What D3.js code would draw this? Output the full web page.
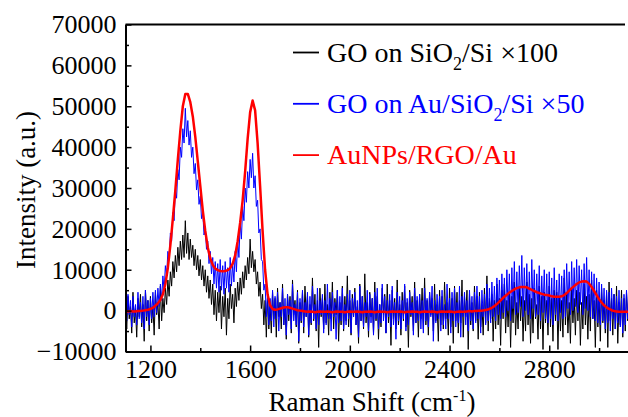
<!DOCTYPE html>
<html>
<head>
<meta charset="utf-8">
<script src="https://cdn.jsdelivr.net/npm/d3@7.9.0/dist/d3.min.js"></script>
<style>
  body { margin: 0; background: #fff; }
  svg { display: block; font-family: "Liberation Serif", "Times New Roman", serif; }
</style>
</head>
<body>
<svg id="chart" width="628" height="417"></svg>
<script>
// Raman shift grids (cm-1): noisy spectra every 5 cm-1, smooth spectrum every 10 cm-1
const shiftFine = d3.range(1100, 3121, 5);
const shiftCoarse = d3.range(1100, 3121, 10);

// GO on SiO2/Si x100 (black), one row per 100 cm-1
const goSiO2 = [
  2000,-4500,3500,-2000,1000,-5500,4500,-3000,500,-6500,3000,-1500,4000,-4000,1500,-7500,5000,-2500,2500,-5000,
  3500,-3000,1000,-6000,4500,-1000,2000,-4500,6000,-2500,3000,-500,5500,1500,7500,3500,9500,6000,12000,8000,
  13500,9500,15500,11000,17000,12500,18500,13000,22000,14000,19000,12500,17500,13000,16000,11000,15000,10000,13500,8500,
  12500,7500,11000,6000,10000,4500,8500,3000,7500,1500,6500,-1000,5000,-2500,4500,-500,6000,-4500,3500,-1500,
  5500,-6000,3000,-2000,6500,500,4000,-3000,5500,1000,7000,2500,8000,4000,9500,5500,11000,7500,13000,9000,
  17500,10500,14500,9500,12500,6500,9500,3500,7000,500,4000,-3500,2500,-6500,3500,-4500,1500,-5500,4500,-2000,
  3000,-6500,5500,-1500,2000,-4500,6500,-3500,1000,-7000,4000,-2500,3500,-5500,7500,-1000,2500,-4000,5000,-8000,
  2000,-3000,4500,-5500,6000,-1500,3500,-6500,1500,-3500,8000,-2500,4000,-5000,2500,-9000,5500,-1500,3000,-4500,
  6500,-3000,1500,-6000,4500,-2000,7000,-4500,3000,-1000,5000,-7500,2000,-3500,6000,-5000,3500,-2500,8500,-4000,
  2500,-6000,4000,-1500,5500,-3500,1000,-8000,6500,-2500,3500,-4500,9000,-3000,2000,-6500,4500,-1500,3000,-5500,
  7000,-2500,3500,-7000,1500,-4000,5500,-1000,4000,-5500,6500,-3000,2500,-8500,5000,-2000,3000,-4500,7500,-3500,
  1500,-6000,4500,-2500,6000,-4000,2000,-9000,5000,-1500,3500,-5000,7000,-3000,2500,-6500,4000,-2000,5500,-4500,
  8000,-3500,2500,-6000,4500,-1000,3000,-5000,6500,-2500,1500,-7500,5000,-3500,3500,-4500,7000,-2000,2000,-6000,
  5500,-4000,3000,-8000,6000,-2500,4500,-5500,2500,-3000,7500,-6500,3500,-1500,5000,-9500,4000,-3500,2000,-5000,
  6000,-2500,3500,-7000,4500,-4000,1500,-6000,5500,-3000,8500,-5000,3000,-2000,4000,-7500,2500,-4500,6500,-3500,
  3000,-8500,5000,-2000,6500,-5500,2500,-4000,4500,-9000,3500,-3000,7000,-6000,2000,-4500,5500,-2500,3500,-7500,
  2500,-5000,7000,-3500,4000,-8000,3000,-5500,5500,-2000,1500,-7000,6000,-4500,3500,-9500,4500,-3000,2500,-6000,
  6000,-4000,3000,-7500,5000,-2500,4500,-9500,3500,-5000,2500,-6500,8000,-3500,4000,-5500,2000,-8000,5500,-3000,
  3000,-6000,5000,-2500,4500,-8500,2000,-4500,6500,-3500,3500,-7000,4000,-5000,7500,-2000,2500,-9000,5000,-4000,
  3500,-7500,5500,-3000,2500,-5500,4500,-9000,7000,-2500,3000,-6000,4000,-4500,6000,-8000,2000,-3500,5000,-6500,
  3000,-5000,4500,-2500,5500
];

// GO on Au/SiO2/Si x50 (blue), one row per 100 cm-1
const goAu = [
  3000,-2500,4000,-1000,2500,-4000,3500,-1500,1500,-3500,4500,-2000,2000,-3000,3500,-4500,5000,-1500,2500,-3500,
  3000,-2000,4500,-1500,5000,-500,5500,1000,6500,2500,8500,5000,11000,8500,14500,12500,19000,17000,24000,22000,
  29500,27500,34500,32000,40000,37500,44500,41000,49500,42500,46500,40500,44000,37500,40000,33500,36000,29500,32000,26000,
  28000,22500,24000,18500,20000,15000,17000,11500,14500,9000,13000,6500,12000,5500,11500,4500,12500,5000,11000,4000,
  12000,5500,10500,4500,13000,6000,11500,7000,14500,9500,17500,13000,21500,17500,25500,22000,30000,26500,34000,30000,
  37000,32500,38500,30000,33000,25500,27000,19000,20000,12500,12000,5000,6500,-1500,4500,-3500,3000,-2500,5000,-4000,
  3500,-2000,4500,-5000,2000,-1500,5500,-3500,3000,-6000,4000,-1000,2500,-4500,6500,-2500,1500,-3500,4500,-7500,
  3000,-2500,5000,-4000,2000,-1500,4500,-6000,3500,-3000,6000,-2000,1500,-4500,5500,-3500,2500,-1000,4000,-5500,
  2500,-3500,6500,-2000,3000,-5000,4500,-1500,2000,-7000,5000,-3000,3500,-2500,5500,-4500,1500,-3500,4000,-2000,
  5000,-5500,3000,-1500,4500,-3500,2500,-6500,6000,-2500,3500,-4000,2000,-1500,5000,-5000,4000,-3000,3000,-6000,
  4500,-2000,5500,-4500,1500,-3000,6500,-2500,3500,-5500,2500,-1500,4000,-4000,6000,-3500,2000,-7000,4500,-2500,
  3500,-4500,2500,-2000,6500,-5000,3000,-3500,4500,-1000,2000,-6000,5500,-3000,3500,-2500,4000,-4500,2500,-5500,
  5500,-2500,3000,-4000,4500,-1500,6000,-7500,2500,-3000,4000,-2000,3500,-5000,5000,-3500,1500,-4500,6500,-2000,
  3000,-5500,4500,-2500,5500,-4000,2000,-3000,6000,-6500,3500,-1500,4500,-3500,2500,-5000,5000,-2500,3500,-4500,
  4500,-3000,6000,-2000,3500,-5500,5000,-1500,4000,-3500,6500,-2500,5500,-3000,7000,-1500,6000,-2500,8000,-1000,
  7500,-2000,9000,-500,8000,-1500,10000,0,9000,-2500,10500,500,12000,-1000,9500,-500,11000,1000,13500,-1500,
  10500,0,11500,-1000,9500,-2000,12500,500,10000,-1500,9000,-1000,11000,-2500,8500,-500,10000,-2000,9000,-3000,
  9500,-2000,8000,-3500,10500,-1000,7500,-2500,9000,-500,8500,-2000,10000,-1500,11500,500,9500,-1000,12000,0,
  10500,1000,12500,-500,11000,1500,10000,-1000,11500,500,13000,0,10000,-1500,9500,-2000,9000,-2500,8000,-3000,
  7000,-3500,6500,-2500,5500,-4500,5000,-3000,4500,-5000,5500,-2000,4000,-4500,3500,-3000,5000,-4000,3000,-5500,
  4000,-3500,5000,-2000,4500
];

// AuNPs/RGO/Au (red), one row per 100 cm-1
const auNPs = [
  -200,-200,-100,-200,-200,-100,-100,0,100,200,
  400,700,1200,1800,2600,4000,6500,10500,16000,22500,
  29500,37000,44000,50000,53000,53000,51000,47500,42500,36500,
  30500,24500,19500,15500,12800,11200,10300,9900,9700,9600,
  9700,9900,10400,11500,13500,17000,21500,27000,34000,42000,
  48500,51400,49000,41000,30500,19500,10000,4000,1300,400,
  200,300,500,700,800,800,700,500,300,100,
  0,-100,-200,-300,-200,-300,-400,-300,-200,-300,
  -300,-200,-300,-400,-300,-200,-300,-300,-400,-300,
  -200,-300,-300,-200,-300,-400,-300,-300,-200,-300,
  -400,-300,-200,-300,-300,-400,-300,-200,-300,-300,
  -200,-300,-400,-300,-300,-200,-300,-300,-400,-300,
  -200,-300,-300,-200,-300,-400,-300,-200,-300,-300,
  -200,-300,-400,-300,-200,-300,-300,-200,-100,-200,
  -100,-100,0,0,100,200,400,700,1100,1600,
  2200,2800,3400,3900,4400,4800,5200,5500,5700,5800,
  5800,5700,5400,5100,4800,4500,4300,4100,3900,3800,
  3700,3500,3400,3400,3400,3500,3800,4300,4900,5500,
  6000,6500,6900,7100,7200,7100,6600,5800,4800,3800,
  2800,2000,1300,800,400,100,-100,-200,-300,-300,
  -300,-300,-300
];

const xMajor = [1200, 1600, 2000, 2400, 2800];
const xMinor = [1400, 1800, 2200, 2600, 3000];
const yMajor = [-10000, 0, 10000, 20000, 30000, 40000, 50000, 60000, 70000];
const yMinor = [-5000, 5000, 15000, 25000, 35000, 45000, 55000, 65000];

const series = [
  { values: goSiO2, shifts: shiftFine, color: '#000000', width: 1.0 },
  { values: goAu, shifts: shiftFine, color: '#0000ff', width: 1.0 },
  { values: auNPs, shifts: shiftCoarse, color: '#ff0000', width: 2.5 }
];

const svg = d3.select('#chart');
const plotLeft = 125.5, plotRight = 628, plotTop = 24.5, plotBottom = 351.5;

const x = d3.scaleLinear().domain([1100, 3116]).range([plotLeft, plotRight]);
const y = d3.scaleLinear().domain([-10000, 70000]).range([plotBottom, plotTop]);

svg.append('clipPath').attr('id', 'plot-clip')
  .append('rect').attr('x', plotLeft).attr('y', plotTop)
  .attr('width', plotRight - plotLeft).attr('height', plotBottom - plotTop);

const plot = svg.append('g').attr('clip-path', 'url(#plot-clip)');

series.forEach(s => {
  const line = d3.line()
    .x((d, i) => x(s.shifts[i]))
    .y(d => y(d));
  plot.append('path')
    .datum(s.values)
    .attr('fill', 'none')
    .attr('stroke', s.color)
    .attr('stroke-width', s.width)
    .attr('stroke-linejoin', 'round')
    .attr('d', line);
});

// axes, ticks pointing inward
const fontSize = 26;

const xAxis = svg.append('g').attr('transform', `translate(0,${plotBottom})`)
  .call(d3.axisBottom(x).tickValues(xMajor).tickSize(-6).tickSizeOuter(0).tickPadding(8).tickFormat(d3.format('d')));
svg.append('g').attr('transform', `translate(0,${plotBottom})`)
  .call(d3.axisBottom(x).tickValues(xMinor).tickSize(-3.5).tickSizeOuter(0).tickFormat(''))
  .select('.domain').remove();

svg.append('g').attr('transform', `translate(${plotLeft},0)`)
  .call(d3.axisLeft(y).tickValues(yMajor).tickSize(-6).tickSizeOuter(0).tickPadding(9).tickFormat(d3.format('d')));
svg.append('g').attr('transform', `translate(${plotLeft},0)`)
  .call(d3.axisLeft(y).tickValues(yMinor).tickSize(-3.5).tickSizeOuter(0).tickFormat(''))
  .select('.domain').remove();

svg.selectAll('.domain').attr('stroke', '#000').attr('stroke-width', 2);
svg.selectAll('.tick line').attr('stroke', '#000').attr('stroke-width', 1.5);
svg.selectAll('.tick text')
  .attr('font-family', '"Liberation Serif", "Times New Roman", serif')
  .attr('font-size', fontSize)
  .attr('fill', '#000');
xAxis.selectAll('.tick text').attr('dy', '0.72em');

// top frame line
svg.append('line')
  .attr('x1', plotLeft).attr('x2', 625).attr('y1', plotTop).attr('y2', plotTop)
  .attr('stroke', '#000').attr('stroke-width', 2);

// axis titles
const xTitle = svg.append('text')
  .attr('x', 372).attr('y', 411)
  .attr('text-anchor', 'middle')
  .attr('font-size', 27);
xTitle.append('tspan').text('Raman Shift (cm');
xTitle.append('tspan').attr('font-size', 16).attr('dy', -10).text('-1');
xTitle.append('tspan').attr('dy', 10).text(')');

svg.append('text')
  .attr('transform', 'translate(35,190) rotate(-90)')
  .attr('text-anchor', 'middle')
  .attr('font-size', 27)
  .text('Intensity (a.u.)');

// legend
const legendRows = [
  { color: '#000000', parts: ['GO on SiO', '2', '/Si \u00d7100'] },
  { color: '#0000ff', parts: ['GO on Au/SiO', '2', '/Si \u00d750'] },
  { color: '#ff0000', parts: ['AuNPs/RGO/Au'] }
];

legendRows.forEach((row, i) => {
  const cy = 52.5 + i * 51.3;
  svg.append('line')
    .attr('x1', 293).attr('x2', 319).attr('y1', cy).attr('y2', cy)
    .attr('stroke', row.color).attr('stroke-width', 1.8);
  const t = svg.append('text')
    .attr('x', 327).attr('y', cy + 9)
    .attr('font-size', 28)
    .attr('fill', row.color);
  t.append('tspan').text(row.parts[0]);
  if (row.parts.length > 1) {
    t.append('tspan').attr('font-size', 18).attr('dy', 8).text(row.parts[1]);
    t.append('tspan').attr('dy', -8).text(row.parts[2]);
  }
});
</script>
</body>
</html>
